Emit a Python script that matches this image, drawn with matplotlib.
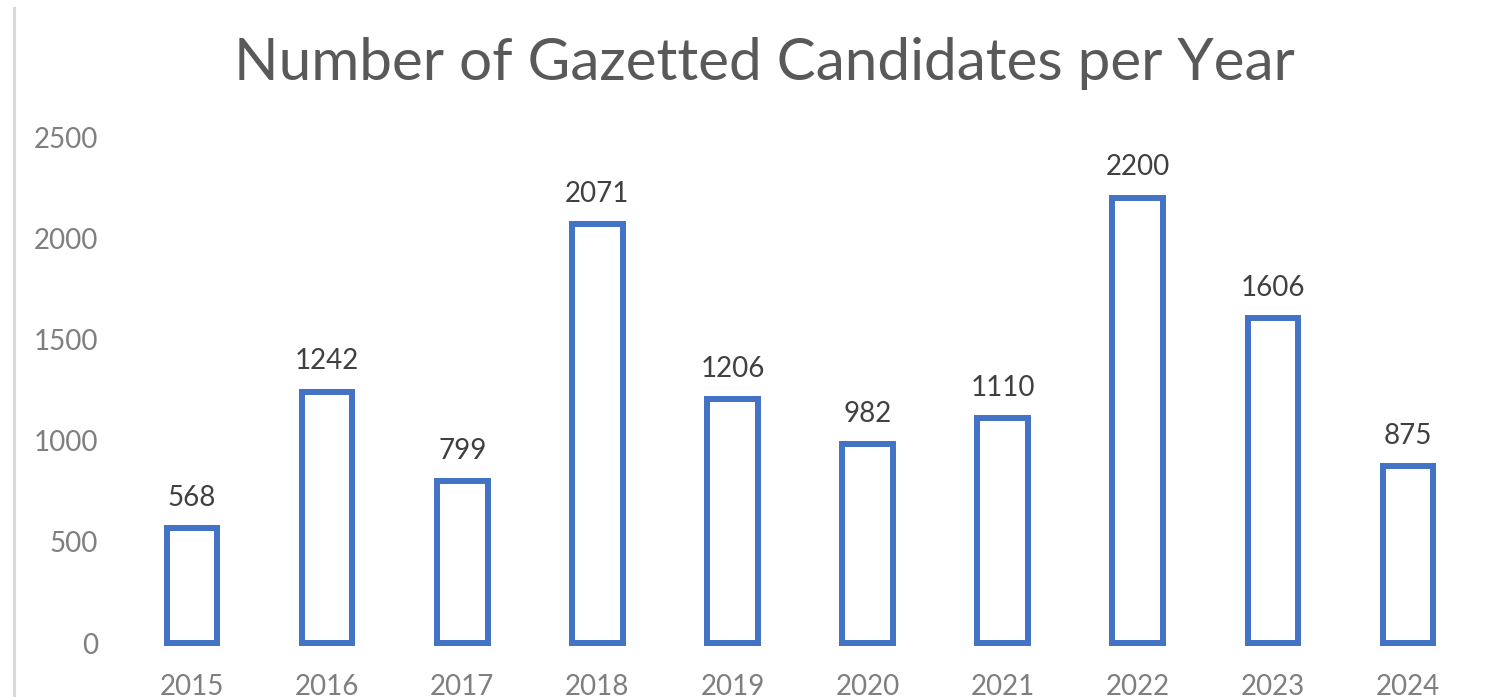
import matplotlib
matplotlib.use("Agg")
import matplotlib.pyplot as plt
from matplotlib.lines import Line2D
import numpy as np

# chart data
years = ["2015", "2016", "2017", "2018", "2019", "2020", "2021", "2022", "2023", "2024"]
candidates = [568, 1242, 799, 2071, 1206, 982, 1110, 2200, 1606, 875]
y_ticks = [0, 500, 1000, 1500, 2000, 2500]

plt.rcParams["font.family"] = ["Lato", "DejaVu Sans"]

W, H = 1507, 697
fig = plt.figure(figsize=(W / 100, H / 100), dpi=100)
ax = fig.add_axes([124.5 / W, (H - 643) / H, 1351 / W, 506 / H])

x = np.arange(len(years))
ax.bar(x, candidates, width=0.375, facecolor="white", edgecolor="#4472C4",
       linewidth=4.3, clip_on=False)

# value labels above each bar
for xi, v in zip(x, candidates):
    ax.annotate(str(v), (xi, v), xytext=(0, 16), textcoords="offset points",
                ha="center", va="baseline", fontsize=20, color="#404040")

ax.set_xlim(-0.5, len(years) - 0.5)
ax.set_ylim(0, 2500)
ax.set_xticks(x)
ax.set_xticklabels(years)
ax.set_yticks(y_ticks)
ax.tick_params(axis="both", length=0, labelsize=20, colors="#7F7F7F")
ax.tick_params(axis="x", pad=22)
ax.tick_params(axis="y", pad=19)
for s in ax.spines.values():
    s.set_visible(False)

fig.text(764.5 / W, (H - 80) / H, "Number of Gazetted Candidates per Year",
         ha="center", va="baseline", fontsize=42, color="#595959")

# thin grey border on the left edge
fig.add_artist(Line2D([13.5 / W, 13.5 / W], [0, (H - 8) / H],
                      transform=fig.transFigure, color="#D9D9D9", linewidth=2.2))

fig.savefig("out.png", dpi=100, facecolor="white")
